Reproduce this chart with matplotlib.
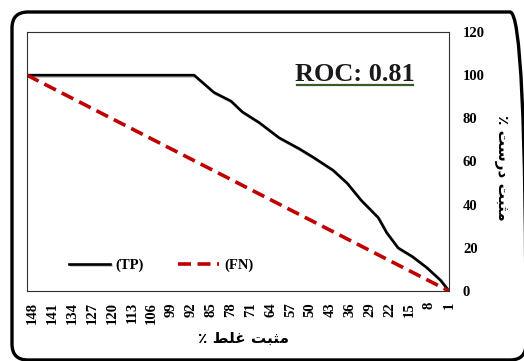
import matplotlib
matplotlib.use("Agg")
import matplotlib.pyplot as plt
from matplotlib.patches import FancyBboxPatch
from matplotlib.lines import Line2D
from matplotlib.transforms import IdentityTransform
import matplotlib.patheffects as pe

# false positive % (category axis, drawn reversed 150 -> 1)
fp_ticks = [148, 141, 134, 127, 120, 113, 106, 99, 92, 85, 78, 71,
            64, 57, 50, 43, 36, 29, 22, 15, 8, 1]

# TP curve
tp_x = [150, 91, 84, 78, 74, 68, 61, 54, 49, 42, 37, 32, 26, 23, 19, 14, 9, 4, 1]
tp_y = [100, 100, 92, 88, 83, 78, 71, 66, 62, 56, 50, 42, 34, 27, 20, 16, 11, 5, 0]

# FN diagonal
fn_x = [150, 1]
fn_y = [100, 0]

y_ticks = [0, 20, 40, 60, 80, 100, 120]
roc_label = "ROC: 0.81"

# Persian labels, shaped by hand (visual order) since matplotlib does no bidi
xlabel_txt = "\u066A \uFEC2\uFEE0\uFECF \uFE96\uFE92\uFE9C\uFEE3"   # مثبت غلط ٪
ylabel_txt = "\u066A \uFE96\uFEB3\uFEAD\uFEA9 \uFE96\uFE92\uFE9C\uFEE3"  # مثبت درست ٪

serif = ["Liberation Serif", "DejaVu Sans"]
plt.rcParams["font.family"] = serif
plt.rcParams["font.weight"] = "bold"

W, H = 524, 361
fig = plt.figure(figsize=(W / 100, H / 100), dpi=100)
ax = fig.add_axes([27 / W, 1 - 291 / H, (449 - 27) / W, (291 - 32) / H])

ax.plot(tp_x, tp_y, color="black", lw=1.9, label="(TP)",
        path_effects=[pe.SimpleLineShadow(offset=(1, -1), alpha=0.25), pe.Normal()])
ax.plot(fn_x, fn_y, color="#c00000", lw=2.6, dashes=(3.6, 1.8), label="(FN)")

ax.set_xlim(150, 1)
ax.set_ylim(0, 120)
ax.set_xticks(fp_ticks)
ax.set_xticklabels([str(v) for v in fp_ticks], rotation=90, fontsize=10.5,
                   fontweight="bold")
ax.yaxis.tick_right()
ax.set_yticks(y_ticks)
ax.set_yticklabels([str(v) for v in y_ticks], fontsize=10.5, fontweight="bold")
ax.tick_params(axis="both", length=0)
ax.tick_params(axis="x", pad=8)
ax.tick_params(axis="y", pad=10)
for s in ax.spines.values():
    s.set_color("#303030")
    s.set_linewidth(0.8)

leg = ax.legend(loc="center left", bbox_to_anchor=(0.1, 0.1), ncol=2,
                frameon=False, fontsize=10.5, handlelength=2.8,
                handletextpad=0.4, columnspacing=2.3, borderpad=0,
                borderaxespad=0)
for t in leg.get_texts():
    t.set_fontweight("bold")

roc = ax.text(0.778, 0.835, roc_label, transform=ax.transAxes, ha="center",
              va="center", fontsize=19, fontweight="bold", color="#1a1a1a")

fig.text(243 / W, 1 - 338 / H, xlabel_txt, ha="center", va="center",
         fontsize=11, fontweight="bold", family=["DejaVu Sans"])
fig.text(501 / W, 1 - 168 / H, ylabel_txt, ha="center", va="center",
         rotation=270, fontsize=11, fontweight="bold", family=["DejaVu Sans"])

# rounded outer frame, in pixels (runs slightly off the right/bottom edge)
frame = FancyBboxPatch((12, 1), 514, 348, boxstyle="round,pad=0,rounding_size=16",
                       transform=IdentityTransform(), fill=False, lw=2.4,
                       edgecolor="black")
fig.add_artist(frame)

# underline under the ROC text
fig.canvas.draw()
bb = roc.get_window_extent()
fig.add_artist(Line2D([bb.x0 + 2, bb.x1 - 2], [bb.y0 + 1.5, bb.y0 + 1.5],
                      transform=IdentityTransform(), color="#3c5a28", lw=1.6))

fig.savefig("out.png", dpi=100)
